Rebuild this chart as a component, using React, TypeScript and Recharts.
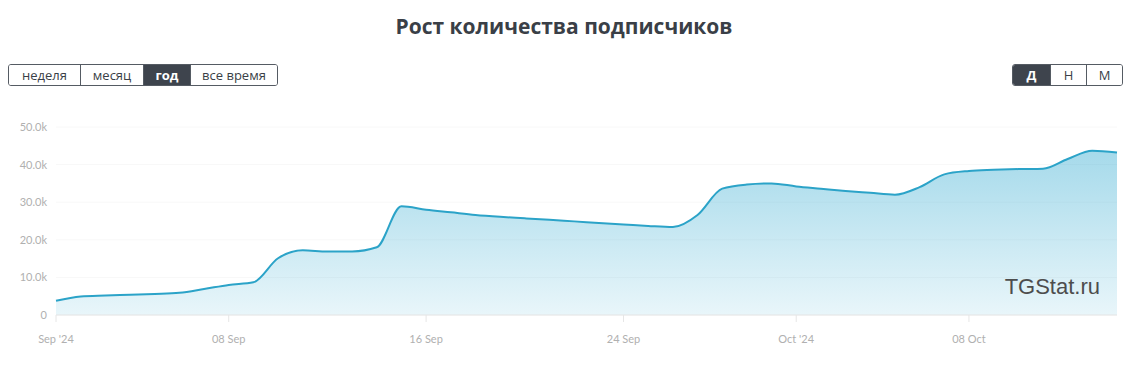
import { AreaChart, Area, XAxis, YAxis, CartesianGrid } from 'recharts';

const SUBSCRIBERS = [
  3800, 4950, 5200, 5400, 5600, 5900, 6900, 8000, 8700, 15100,
  17200, 16900, 16900, 18000, 28900, 28000, 27300, 26600, 26100, 25700,
  25300, 24900, 24500, 24100, 23700, 23400, 26600, 33600, 34700, 35000,
  34200, 33600, 33000, 32500, 32000, 34000, 37400, 38300, 38600, 38800,
  38900, 41500, 43700, 43200,
];

const TICK_DAYS = [0, 7, 15, 23, 30, 37];
const TICK_LABELS = ["Sep '24", '08 Sep', '16 Sep', '24 Sep', "Oct '24", '08 Oct'];
const Y_TICKS = [0, 10000, 20000, 30000, 40000, 50000];

const PERIODS = ['неделя', 'месяц', 'год', 'все время'];
const PERIOD_WIDTHS = [71, 63, 47, 87];
const GROUPINGS = ['Д', 'Н', 'М'];

const chartData = SUBSCRIBERS.map((v, i) => ({ day: i, value: v }));

const fmtY = (v: number) => (v === 0 ? '0' : `${(v / 1000).toFixed(1)}k`);
const fmtX = (d: number) => TICK_LABELS[TICK_DAYS.indexOf(d)] ?? '';

function ButtonGroup({ items, widths, active, left }: { items: string[]; widths: number[]; active: number; left: number }) {
  return (
    <div
      style={{
        position: 'absolute',
        left,
        top: 64,
        height: 22,
        display: 'flex',
        border: '1px solid #555b63',
        borderRadius: 3,
        overflow: 'hidden',
        boxSizing: 'border-box',
      }}
    >
      {items.map((t, i) => (
        <div
          key={t}
          style={{
            width: widths[i],
            boxSizing: 'border-box',
            borderLeft: i ? '1px solid #555b63' : 'none',
            background: i === active ? '#3e444d' : '#fff',
            color: i === active ? '#fff' : '#3a3f47',
            fontWeight: i === active ? 700 : 400,
            fontSize: 13,
            lineHeight: '20px',
            textAlign: 'center',
          }}
        >
          {t}
        </div>
      ))}
    </div>
  );
}

export default function App() {
  return (
    <div style={{ position: 'absolute', left: 0, top: 0, width: 1124, height: 368, background: '#fff', fontFamily: '"Open Sans", sans-serif' }}>
      <div style={{ position: 'absolute', top: 12, left: 2, width: 1124, textAlign: 'center', fontSize: 21, fontWeight: 700, color: '#3a3f47' }}>
        Рост количества подписчиков
      </div>
      <ButtonGroup items={PERIODS} widths={PERIOD_WIDTHS} active={2} left={8} />
      <ButtonGroup items={GROUPINGS} widths={[37, 36, 36]} active={0} left={1012} />

      <div style={{ position: 'absolute', left: 0, top: 0 }}>
        <AreaChart width={1124} height={368} data={chartData} margin={{ top: 127, right: 7, bottom: 23, left: 0 }}>
          <defs>
            <linearGradient id="subsFill" x1="0" y1="0" x2="0" y2="1">
              <stop offset="0%" stopColor="#1fa2cc" stopOpacity={0.4} />
              <stop offset="100%" stopColor="#1fa2cc" stopOpacity={0.1} />
            </linearGradient>
          </defs>
          <CartesianGrid vertical={false} stroke="#f8f8f8" />
          <XAxis
            dataKey="day"
            type="number"
            domain={[0, 43]}
            ticks={TICK_DAYS}
            tickFormatter={fmtX}
            height={30}
            axisLine={{ stroke: '#e6e6e6' }}
            tickLine={{ stroke: '#e6e6e6' }}
            tickSize={7}
            tickMargin={13}
            tick={{ fontSize: 11, fill: '#b0b0b0', fontFamily: 'Lato, sans-serif' }}
          />
          <YAxis
            domain={[0, 50000]}
            ticks={Y_TICKS}
            tickFormatter={fmtY}
            width={56}
            axisLine={false}
            tickLine={false}
            tickMargin={3}
            tick={{ fontSize: 11, fill: '#b0b0b0', fontFamily: 'Lato, sans-serif' }}
          />
          <Area
            type="monotone"
            dataKey="value"
            stroke="#2ba3c8"
            strokeWidth={2}
            fill="url(#subsFill)"
            fillOpacity={1}
            dot={false}
            activeDot={false}
            isAnimationActive={false}
          />
        </AreaChart>
      </div>

      <div style={{ position: 'absolute', right: 24, top: 274, fontSize: 22, color: '#4d4d4d', fontFamily: '"Liberation Sans", Arial, sans-serif' }}>
        TGStat.ru
      </div>
    </div>
  );
}
